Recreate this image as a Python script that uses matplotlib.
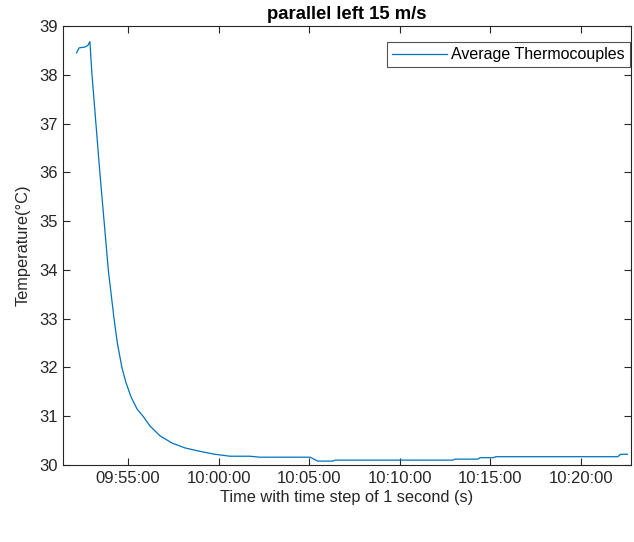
import matplotlib
matplotlib.use("Agg")
import matplotlib.pyplot as plt
from datetime import datetime

times = ["09:52:10", "09:52:18", "09:52:38", "09:52:47", "09:52:54",
         "09:53:01", "09:53:14", "09:53:27", "09:53:41", "09:53:55",
         "09:54:14", "09:54:25", "09:54:40", "09:54:53", "09:55:10",
         "09:55:30", "09:55:50", "09:56:13", "09:56:46", "09:57:26",
         "09:58:09", "09:58:58", "09:59:48", "10:00:38", "10:01:44",
         "10:02:17", "10:05:03", "10:05:13", "10:05:29", "10:06:19",
         "10:06:26", "10:12:56", "10:13:03", "10:14:19", "10:14:26",
         "10:15:09", "10:15:19", "10:22:02", "10:22:12", "10:22:34"]
temps = [38.45, 38.55, 38.57, 38.60, 38.68,
         38.00, 37.00, 36.00, 35.00, 34.00,
         33.00, 32.50, 32.00, 31.70, 31.40,
         31.15, 31.00, 30.80, 30.60, 30.45,
         30.35, 30.28, 30.22, 30.18, 30.18,
         30.16, 30.16, 30.13, 30.08, 30.08,
         30.10, 30.10, 30.12, 30.12, 30.15,
         30.15, 30.17, 30.17, 30.22, 30.22]
xtick_labels = ["09:55:00", "10:00:00", "10:05:00", "10:10:00", "10:15:00", "10:20:00"]
yticks = [30, 31, 32, 33, 34, 35, 36, 37, 38, 39]

def to_dt(s):
    return datetime.strptime("2021-01-01 " + s, "%Y-%m-%d %H:%M:%S")

x = [to_dt(t) for t in times]

plt.rcParams['font.family'] = ['Liberation Sans', 'DejaVu Sans']
fig = plt.figure(figsize=(6.34, 5.42), dpi=100)
ax = fig.add_axes([63/634, 1-465/542, (631-63)/634, (465-26)/542])
dark = '#262626'
ax.plot(x, temps, color='#0072BD', lw=0.9, label='Average Thermocouples')
ax.set_xlim(to_dt("09:51:25"), to_dt("10:22:46"))
ax.set_ylim(30, 39)
ax.set_yticks(yticks)
ax.set_xticks([to_dt(t) for t in xtick_labels])
ax.set_xticklabels(xtick_labels)
ax.tick_params(direction='in', length=5, width=0.8, top=True, right=True,
               labelsize=12, colors=dark, pad=4)
for s in ax.spines.values():
    s.set_color(dark)
    s.set_linewidth(0.8)
ax.set_xlabel('Time with time step of 1 second (s)', fontsize=11.8, color=dark, labelpad=3)
ax.set_ylabel('Temperature(°C)', fontsize=11.8, color=dark, labelpad=6)
ax.set_title('parallel left 15 m/s', fontsize=13.3, fontweight='bold', color='black', pad=5)
leg = ax.legend(loc='upper right', bbox_to_anchor=(0.9985, 0.963), borderaxespad=0,
                fontsize=11.5, frameon=True, fancybox=False, edgecolor=dark,
                handlelength=3.45, borderpad=0.32, handletextpad=0.25)
leg.get_frame().set_linewidth(0.8)
fig.savefig('out.png', dpi=100)
